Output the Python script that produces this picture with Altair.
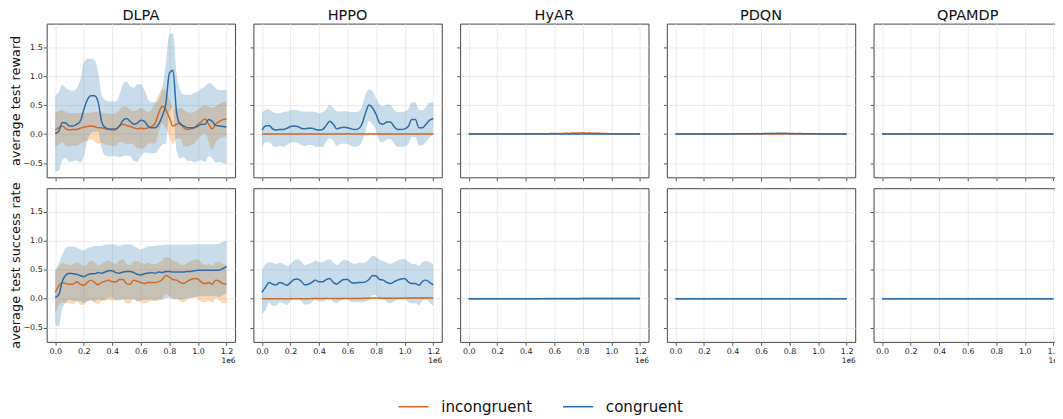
import altair as alt
import pandas as pd

# sampling grid of the curves (training steps)
X = [i * 25000 for i in range(49)]
XTICKS = [0, 200000, 400000, 600000, 800000, 1000000, 1200000]
YTICKS = [-0.5, 0.0, 0.5, 1.0, 1.5]

ALGOS = ["DLPA", "HPPO", "HyAR", "PDQN", "QPAMDP"]
METRICS = [("reward", "average test reward"), ("success", "average test success rate")]
SERIES = ["incongruent", "congruent"]

ZEROS = [0.0] * 49

# ---------------- DLPA ----------------
DLPA_REWARD_INC_MEAN = [0.07, 0.11, 0.14, 0.09, 0.07, 0.08, 0.08, 0.10, 0.12, 0.13, 0.14, 0.13, 0.11,
                        0.11, 0.09, 0.08, 0.07, 0.08, 0.14, 0.17, 0.15, 0.13, 0.11, 0.09, 0.10, 0.09,
                        0.11, 0.13, 0.19, 0.36, 0.48, 0.42, 0.28, 0.14, 0.17, 0.19, 0.11, 0.08, 0.09,
                        0.11, 0.17, 0.22, 0.26, 0.17, 0.09, 0.17, 0.22, 0.25, 0.26]
DLPA_REWARD_INC_UPPER = [0.36, 0.40, 0.42, 0.38, 0.36, 0.36, 0.36, 0.37, 0.37, 0.37, 0.37, 0.38, 0.39,
                         0.37, 0.36, 0.35, 0.35, 0.36, 0.42, 0.48, 0.47, 0.42, 0.40, 0.42, 0.45, 0.42,
                         0.38, 0.42, 0.54, 0.68, 0.78, 0.74, 0.60, 0.45, 0.42, 0.45, 0.42, 0.38, 0.37,
                         0.38, 0.42, 0.47, 0.50, 0.47, 0.45, 0.48, 0.52, 0.55, 0.56]
DLPA_REWARD_CON_MEAN = [0.01, 0.05, 0.20, 0.19, 0.14, 0.14, 0.17, 0.22, 0.42, 0.59, 0.66, 0.66, 0.56,
                        0.22, 0.11, 0.09, 0.09, 0.09, 0.14, 0.24, 0.27, 0.22, 0.17, 0.19, 0.24, 0.22,
                        0.14, 0.11, 0.11, 0.17, 0.31, 0.52, 1.05, 1.10, 0.38, 0.17, 0.14, 0.11, 0.11,
                        0.11, 0.14, 0.17, 0.17, 0.25, 0.22, 0.15, 0.14, 0.13, 0.12]
DLPA_REWARD_CON_UPPER = [0.66, 0.73, 0.85, 0.79, 0.76, 0.75, 0.79, 0.93, 1.22, 1.30, 1.30, 1.28, 1.08,
                         0.68, 0.59, 0.56, 0.56, 0.56, 0.68, 0.86, 0.91, 0.82, 0.80, 0.86, 0.86, 0.76,
                         0.60, 0.55, 0.55, 0.60, 0.80, 1.20, 1.72, 1.74, 1.05, 0.76, 0.68, 0.68, 0.68,
                         0.71, 0.74, 0.79, 0.82, 0.88, 0.85, 0.79, 0.76, 0.76, 0.76]

DLPA_SUCCESS_INC_MEAN = [0.11, 0.22, 0.28, 0.26, 0.25, 0.25, 0.29, 0.25, 0.23, 0.28, 0.32, 0.28, 0.24,
                         0.28, 0.30, 0.32, 0.29, 0.29, 0.33, 0.33, 0.26, 0.25, 0.32, 0.30, 0.28, 0.26,
                         0.28, 0.28, 0.28, 0.29, 0.33, 0.40, 0.37, 0.33, 0.32, 0.28, 0.26, 0.30, 0.33,
                         0.35, 0.34, 0.28, 0.26, 0.28, 0.25, 0.32, 0.30, 0.26, 0.25]
DLPA_SUCCESS_INC_UPPER = [0.47, 0.55, 0.62, 0.60, 0.58, 0.60, 0.63, 0.60, 0.57, 0.60, 0.66, 0.63, 0.58,
                          0.60, 0.64, 0.66, 0.62, 0.60, 0.66, 0.68, 0.60, 0.58, 0.64, 0.65, 0.62, 0.60,
                          0.62, 0.60, 0.60, 0.62, 0.66, 0.72, 0.70, 0.66, 0.64, 0.60, 0.58, 0.62, 0.65,
                          0.67, 0.68, 0.62, 0.58, 0.60, 0.57, 0.63, 0.63, 0.60, 0.58]
DLPA_SUCCESS_CON_MEAN = [0.02, 0.07, 0.30, 0.41, 0.44, 0.43, 0.42, 0.40, 0.38, 0.41, 0.43, 0.43, 0.45,
                         0.44, 0.46, 0.48, 0.48, 0.45, 0.44, 0.46, 0.47, 0.47, 0.45, 0.42, 0.41, 0.43,
                         0.44, 0.45, 0.44, 0.46, 0.45, 0.47, 0.47, 0.46, 0.46, 0.46, 0.46, 0.47, 0.47,
                         0.48, 0.49, 0.49, 0.49, 0.49, 0.49, 0.49, 0.49, 0.52, 0.55]
DLPA_SUCCESS_CON_UPPER = [0.48, 0.62, 0.76, 0.88, 0.90, 0.90, 0.88, 0.85, 0.83, 0.87, 0.89, 0.91, 0.91,
                          0.91, 0.93, 0.94, 0.94, 0.93, 0.91, 0.93, 0.94, 0.94, 0.91, 0.88, 0.85, 0.88,
                          0.90, 0.91, 0.91, 0.92, 0.92, 0.93, 0.93, 0.93, 0.93, 0.93, 0.93, 0.93, 0.93,
                          0.94, 0.94, 0.94, 0.94, 0.94, 0.94, 0.94, 0.95, 0.98, 1.00]

# ---------------- HPPO ----------------
HPPO_REWARD_INC_MEAN = [0.0, 0.0, 0.0, 0.0, 0.0, 0.0, 0.0, 0.0, 0.0, 0.0, 0.0, 0.0, 0.0,
                        0.0, 0.0, 0.0, 0.0, 0.0, 0.002, 0.0, 0.003, 0.001, 0.003, 0.0, 0.004, 0.002,
                        0.003, 0.001, 0.004, 0.003, 0.004, 0.002, 0.004, 0.002, 0.003, 0.001, 0.002, 0.0, 0.0,
                        0.0, 0.0, 0.0, 0.0, 0.0, 0.0, 0.0, 0.0, 0.0, 0.0]
HPPO_REWARD_INC_UPPER = [0.006, 0.006, 0.006, 0.006, 0.006, 0.006, 0.006, 0.006, 0.006, 0.006, 0.006, 0.006, 0.006,
                         0.006, 0.006, 0.006, 0.006, 0.006, 0.01, 0.006, 0.012, 0.008, 0.012, 0.006, 0.014, 0.01,
                         0.012, 0.008, 0.014, 0.012, 0.014, 0.01, 0.014, 0.01, 0.012, 0.008, 0.01, 0.006, 0.006,
                         0.006, 0.006, 0.006, 0.006, 0.006, 0.006, 0.006, 0.006, 0.006, 0.006]
HPPO_REWARD_CON_MEAN = [0.07, 0.14, 0.15, 0.09, 0.07, 0.08, 0.08, 0.10, 0.13, 0.14, 0.13, 0.10, 0.09,
                        0.10, 0.10, 0.08, 0.07, 0.08, 0.15, 0.22, 0.17, 0.09, 0.11, 0.12, 0.11, 0.09,
                        0.08, 0.09, 0.17, 0.36, 0.50, 0.45, 0.34, 0.19, 0.17, 0.21, 0.21, 0.13, 0.08,
                        0.08, 0.09, 0.13, 0.25, 0.25, 0.11, 0.11, 0.17, 0.24, 0.27]
HPPO_REWARD_CON_UPPER = [0.36, 0.42, 0.43, 0.38, 0.36, 0.36, 0.38, 0.39, 0.41, 0.42, 0.41, 0.39, 0.39,
                         0.39, 0.39, 0.38, 0.36, 0.38, 0.43, 0.51, 0.45, 0.39, 0.39, 0.40, 0.39, 0.38,
                         0.38, 0.39, 0.47, 0.68, 0.77, 0.74, 0.62, 0.51, 0.48, 0.51, 0.51, 0.42, 0.38,
                         0.38, 0.39, 0.43, 0.55, 0.55, 0.42, 0.41, 0.47, 0.54, 0.55]

HPPO_SUCCESS_INC_MEAN = [0.0, 0.0, 0.0, 0.0, 0.0, 0.0, 0.0, 0.0, 0.0, 0.0, 0.0, 0.0, 0.0,
                         0.0, 0.002, 0.003, 0.003, 0.004, 0.003, 0.003, 0.004, 0.003, 0.003, 0.004, 0.003, 0.003,
                         0.004, 0.004, 0.005, 0.006, 0.008, 0.012, 0.014, 0.01, 0.008, 0.007, 0.007, 0.008, 0.008,
                         0.009, 0.010, 0.010, 0.010, 0.010, 0.011, 0.011, 0.011, 0.011, 0.011]
HPPO_SUCCESS_INC_UPPER = [0.006, 0.006, 0.006, 0.006, 0.006, 0.006, 0.006, 0.006, 0.006, 0.006, 0.006, 0.006, 0.006,
                          0.006, 0.01, 0.012, 0.012, 0.014, 0.012, 0.012, 0.014, 0.012, 0.012, 0.014, 0.012, 0.012,
                          0.014, 0.014, 0.016, 0.018, 0.022, 0.03, 0.032, 0.026, 0.022, 0.02, 0.02, 0.022, 0.022,
                          0.024, 0.026, 0.026, 0.026, 0.026, 0.028, 0.028, 0.028, 0.028, 0.028]
HPPO_SUCCESS_CON_MEAN = [0.11, 0.20, 0.28, 0.25, 0.24, 0.28, 0.26, 0.23, 0.28, 0.33, 0.34, 0.30, 0.24,
                         0.25, 0.28, 0.32, 0.29, 0.29, 0.33, 0.35, 0.28, 0.25, 0.30, 0.33, 0.33, 0.28,
                         0.27, 0.28, 0.28, 0.29, 0.33, 0.40, 0.39, 0.33, 0.32, 0.28, 0.26, 0.29, 0.32,
                         0.34, 0.35, 0.29, 0.26, 0.26, 0.23, 0.30, 0.32, 0.28, 0.24]
HPPO_SUCCESS_CON_UPPER = [0.47, 0.60, 0.63, 0.62, 0.60, 0.62, 0.60, 0.57, 0.60, 0.66, 0.68, 0.64, 0.58,
                          0.60, 0.62, 0.66, 0.63, 0.63, 0.66, 0.68, 0.62, 0.58, 0.63, 0.67, 0.66, 0.62,
                          0.60, 0.62, 0.62, 0.63, 0.68, 0.74, 0.72, 0.67, 0.65, 0.62, 0.60, 0.63, 0.66,
                          0.68, 0.69, 0.64, 0.60, 0.60, 0.57, 0.63, 0.65, 0.63, 0.60]

# ---------------- HyAR ----------------
HYAR_REWARD_INC_MEAN = [0.0, 0.0, 0.0, 0.0, 0.0, 0.0, 0.0, 0.0, 0.0, 0.0, 0.0, 0.0, 0.0,
                        0.0, 0.002, 0.004, 0.003, 0.005, 0.004, 0.006, 0.005, 0.008, 0.006, 0.010, 0.008, 0.012,
                        0.010, 0.015, 0.012, 0.020, 0.015, 0.018, 0.022, 0.016, 0.020, 0.014, 0.018, 0.012, 0.010,
                        0.008, 0.006, 0.004, 0.003, 0.002, 0.0, 0.0, 0.0, 0.0, 0.0]
HYAR_SUCCESS_INC_MEAN = [0.0, 0.0, 0.0, 0.0, 0.0, 0.0, 0.0, 0.0, 0.0, 0.0, 0.0, 0.0, 0.0,
                         0.0, 0.0, 0.0, 0.0, 0.0, 0.0, 0.0, 0.001, 0.001, 0.002, 0.002, 0.002, 0.003,
                         0.003, 0.003, 0.004, 0.004, 0.005, 0.005, 0.006, 0.006, 0.006, 0.007, 0.007, 0.007, 0.008,
                         0.008, 0.008, 0.008, 0.009, 0.009, 0.009, 0.009, 0.009, 0.009, 0.009]

# ---------------- PDQN ----------------
PDQN_REWARD_CON_MEAN = [0.0, 0.0, 0.0, 0.0, 0.0, 0.0, 0.0, 0.0, 0.0, 0.0, 0.0, 0.0, 0.002,
                        0.003, 0.002, 0.004, 0.003, 0.005, 0.004, 0.006, 0.005, 0.007, 0.006, 0.009, 0.007, 0.011,
                        0.009, 0.013, 0.010, 0.016, 0.012, 0.014, 0.010, 0.012, 0.008, 0.010, 0.006, 0.007, 0.004,
                        0.005, 0.003, 0.002, 0.001, 0.0, 0.0, 0.0, 0.0, 0.0, 0.0]

PANELS = {
    ("reward", "DLPA"): (DLPA_REWARD_INC_MEAN, DLPA_REWARD_INC_UPPER, DLPA_REWARD_CON_MEAN, DLPA_REWARD_CON_UPPER),
    ("reward", "HPPO"): (HPPO_REWARD_INC_MEAN, HPPO_REWARD_INC_UPPER, HPPO_REWARD_CON_MEAN, HPPO_REWARD_CON_UPPER),
    ("reward", "HyAR"): (HYAR_REWARD_INC_MEAN, HYAR_REWARD_INC_MEAN, ZEROS, ZEROS),
    ("reward", "PDQN"): (ZEROS, ZEROS, PDQN_REWARD_CON_MEAN, PDQN_REWARD_CON_MEAN),
    ("reward", "QPAMDP"): (ZEROS, ZEROS, ZEROS, ZEROS),
    ("success", "DLPA"): (DLPA_SUCCESS_INC_MEAN, DLPA_SUCCESS_INC_UPPER, DLPA_SUCCESS_CON_MEAN, DLPA_SUCCESS_CON_UPPER),
    ("success", "HPPO"): (HPPO_SUCCESS_INC_MEAN, HPPO_SUCCESS_INC_UPPER, HPPO_SUCCESS_CON_MEAN, HPPO_SUCCESS_CON_UPPER),
    ("success", "HyAR"): (HYAR_SUCCESS_INC_MEAN, HYAR_SUCCESS_INC_MEAN, ZEROS, ZEROS),
    ("success", "PDQN"): (ZEROS, ZEROS, ZEROS, ZEROS),
    ("success", "QPAMDP"): (ZEROS, ZEROS, ZEROS, ZEROS),
}

ORANGE_LINE = "#d0692a"
BLUE_LINE = "#2b6cab"
ORANGE_BAND = "#ff7f0e"
BLUE_BAND = "#1f77b4"


def panel_frame(inc_m, inc_u, con_m, con_u):
    rows = []
    for series, means, uppers in (("incongruent", inc_m, inc_u), ("congruent", con_m, con_u)):
        for x, m, u in zip(X, means, uppers):
            rows.append({"x": x, "series": series, "mean": m, "hi": u, "lo": 2 * m - u})
    return pd.DataFrame(rows)


color_scale = alt.Scale(domain=SERIES, range=[ORANGE_LINE, BLUE_LINE])
x_scale = alt.Scale(domain=[-60000, 1260000], nice=False, zero=False)
y_scale = alt.Scale(domain=[-0.745, 1.905], nice=False, zero=False)

legend = alt.Legend(orient="none", legendX=354, legendY=370, direction="horizontal", title=None,
                    symbolType="stroke", symbolSize=930, symbolStrokeWidth=1.5,
                    labelFontSize=15.2, labelOffset=12, columnPadding=27, labelColor="#111",
                    labelFont="DejaVu Sans")


def make_panel(metric, ytitle, algo, r, c):
    df = panel_frame(*PANELS[(metric, algo)])
    if r == 1:
        xaxis = alt.Axis(values=XTICKS, labelExpr="format(datum.value / 1000000, '.1f')",
                         title="1e6", titleAnchor="end", titleFontSize=7.5, titlePadding=1,
                         titleFontWeight="normal")
    else:
        xaxis = alt.Axis(values=XTICKS, labels=False, title=None)
    if c == 0:
        yaxis = alt.Axis(values=YTICKS, format=".1f", title=ytitle, titlePadding=0, labelPadding=1)
    else:
        yaxis = alt.Axis(values=YTICKS, labels=False, title=None)
    xenc = alt.X("x:Q", scale=x_scale, axis=xaxis)
    base = alt.Chart(df)
    layers = []
    for s, fill, op in (("incongruent", ORANGE_BAND, 0.3), ("congruent", BLUE_BAND, 0.25)):
        layers.append(
            base.transform_filter(alt.datum.series == s)
            .mark_area(fill=fill, opacity=op, interpolate="monotone", clip=True)
            .encode(x=xenc, y=alt.Y("lo:Q", scale=y_scale, axis=yaxis), y2="hi:Q")
        )
    for s in SERIES:
        layers.append(
            base.transform_filter(alt.datum.series == s)
            .mark_line(strokeWidth=1.5, interpolate="monotone", clip=True)
            .encode(x=xenc, y=alt.Y("mean:Q", scale=y_scale, axis=yaxis),
                    color=alt.Color("series:N", scale=color_scale, legend=legend))
        )
    ch = alt.layer(*layers).properties(width=190, height=155)
    if r == 0:
        ch = ch.properties(title=alt.TitleParams(algo, fontSize=14.6, fontWeight="normal",
                                                 font="DejaVu Sans", color="#111", offset=1))
    return ch


panels = []
for r, (metric, ytitle) in enumerate(METRICS):
    for c, algo in enumerate(ALGOS):
        panels.append(make_panel(metric, ytitle, algo, r, c))

chart = (
    alt.concat(*panels, columns=5, spacing=alt.RowColnumber(row=11, column=18.5), bounds="flush")
    .resolve_scale(color="shared")
    .resolve_legend(color="shared")
    .properties(padding={"left": 1, "top": -3, "right": -8, "bottom": 0})
    .configure(font="DejaVu Sans")
    .configure_view(stroke="#444", strokeWidth=1)
    .configure_axis(gridColor="#e6e6e6", gridWidth=0.8, tickColor="#333", tickSize=3.5,
                    tickWidth=0.8, domain=False, labelFontSize=8, labelColor="#222",
                    labelFont="DejaVu Sans", titleFont="DejaVu Sans", titleFontWeight="normal",
                    titleFontSize=13, titleColor="#111", labelPadding=2)
)

chart.save("out.html", embed_options={"renderer": "svg", "actions": False})
